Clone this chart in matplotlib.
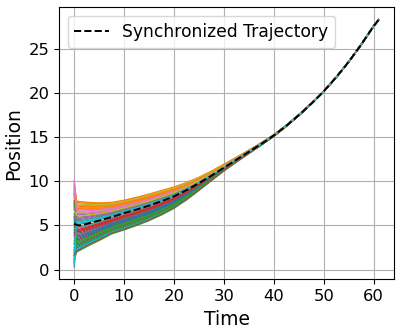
import numpy as np
import matplotlib
matplotlib.use("Agg")
import matplotlib.pyplot as plt

# time samples
time = [0, 0.5, 1, 2, 3, 5, 7.5, 10, 12.5, 15, 17.5, 20, 22.5, 25, 27.5, 30,
        32.5, 35, 37.5, 40, 42.5, 45, 47.5, 50, 52.5, 55, 57.5, 60, 61]
# synchronized (dashed) trajectory
sync = [5.2, 5.05, 5.0, 5.1, 5.25, 5.55, 5.95, 6.4, 6.8, 7.25, 7.75, 8.3,
        9.0, 9.8, 10.65, 11.55, 12.45, 13.35, 14.25, 15.2, 16.3, 17.5, 18.8,
        20.2, 21.8, 23.55, 25.5, 27.6, 28.3]
# band half-widths above / below the synchronized trajectory (from t=0.5 on)
top_spread = [2.7, 2.7, 2.55, 2.35, 2.0, 1.65, 1.45, 1.38, 1.3, 1.2, 1.05,
              0.85, 0.65, 0.5, 0.38, 0.26, 0.17, 0.12, 0.08, 0.06, 0.045,
              0.035, 0.025, 0.018, 0.012, 0.006, 0.002, 0.0]
bottom_spread = [3.05, 2.85, 2.65, 2.5, 2.25, 1.9, 1.9, 1.8, 1.7, 1.55, 1.35,
                 1.1, 0.82, 0.56, 0.36, 0.26, 0.19, 0.13, 0.09, 0.06, 0.045,
                 0.035, 0.025, 0.018, 0.012, 0.006, 0.002, 0.0]

# each agent: starting position and place inside the band (-1 bottom .. 1 top)
start_pos = [2.5, 9.2, 1.2, 3.0, 0.3, 4.2, 10.1, 6.3, 8.8, 3.6,
             1.9, 9.6, 5.5, 7.8, 0.8, 2.2, 9.9, 4.8, 8.1, 1.0,
             6.0, 7.2, 3.3, 8.6, 1.5, 5.1, 9.4, 2.8, 8.3, 0.6,
             4.5, 6.8, 7.5, 3.9, 5.8, 1.6, 9.0, 7.0, 6.6, 2.1]
band_pos = [-0.75, 1.0, -1.0, -0.55, -0.35, -0.45, 0.85, 0.05, 0.75, -0.1,
            -0.85, 0.95, -0.6, -0.25, 0.3, -0.7, 0.65, 0.2, 0.55, -0.9,
            -0.4, 0.8, -0.8, -0.15, 0.45, -0.3, 0.6, -0.05, 0.9, 0.15,
            -0.5, 0.7, -0.65, -0.2, 0.35, -0.95, 0.5, 0.25, 0.4, 0.1]

fig = plt.figure(figsize=(4.0, 3.34), dpi=100)
ax = fig.add_axes([0.1475, 0.1638, 0.8375, 0.8142])

sync_arr = np.array(sync)
for x0, u in zip(start_pos, band_pos):
    spread = np.array(top_spread if u >= 0 else bottom_spread)
    y = np.concatenate([[x0], sync_arr[1:] + u * spread])
    ax.plot(time, y, linewidth=1.0)

ax.plot(time, sync, 'k--', linewidth=1.4, label='Synchronized Trajectory')

ax.set_xlabel('Time', fontsize=13.5)
ax.set_ylabel('Position', fontsize=13.5)
ax.tick_params(labelsize=11.8)
ax.set_xticks([0, 10, 20, 30, 40, 50, 60])
ax.set_yticks([0, 5, 10, 15, 20, 25])
ax.grid(True)
ax.legend(loc='upper left', fontsize=12.3)

fig.savefig('out.png', dpi=100)
